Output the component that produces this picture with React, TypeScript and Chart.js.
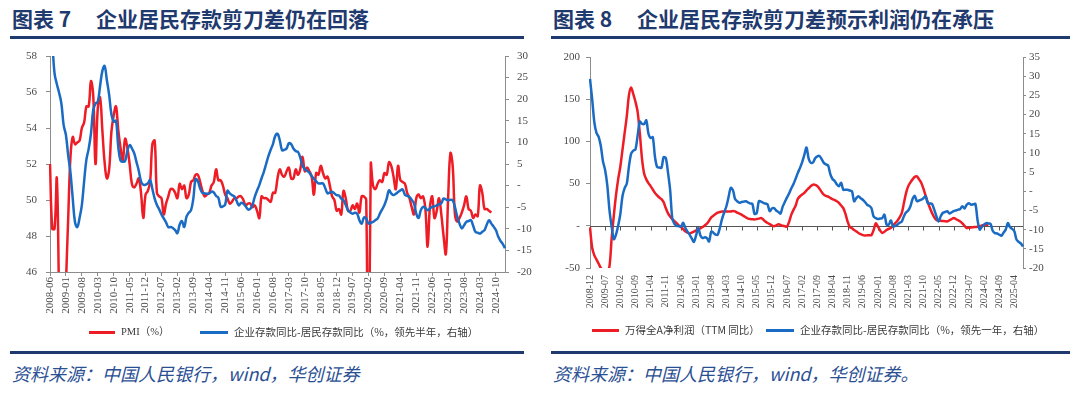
import React, { useEffect, useRef } from "react";
import { Chart, registerables } from "chart.js";

Chart.register(...registerables);

// ---------- categories ----------
function months(y0: number, m0: number, n: number): string[] {
  const out: string[] = [];
  for (let i = 0; i < n; i++) {
    const t = m0 - 1 + i;
    const y = y0 + Math.floor(t / 12);
    const m = (t % 12) + 1;
    out.push(`${y}-${m < 10 ? "0" + m : m}`);
  }
  return out;
}
const CAT1 = months(2008, 6, 201); // 2008-06 .. 2025-02
const CAT2 = months(2008, 12, 201); // 2008-12 .. 2025-08

// ---------- chart 7 series ----------
const PMI = [
  52.0, 48.4, 48.4, 51.2, 44.6, 38.8, 41.2,
  45.3, 49.0, 52.4, 53.5, 53.1, 53.2, 53.3, 54.0, 54.3, 55.2, 55.2, 56.6,
  55.8, 52.0, 55.1, 55.7, 53.9, 52.1, 51.2, 51.7, 53.8, 54.7, 55.2, 53.9,
  52.9, 52.2, 53.4, 52.9, 52.0, 50.9, 50.7, 50.9, 51.2, 50.4, 49.0, 50.3,
  50.5, 51.0, 53.1, 53.3, 50.4, 50.2, 50.1, 49.2, 49.8, 50.2, 50.6, 50.6,
  50.4, 50.1, 50.9, 50.6, 50.8, 50.1, 50.3, 51.0, 51.1, 51.4, 51.4, 51.0,
  50.5, 50.2, 50.3, 50.4, 50.8, 51.0, 51.7, 51.1, 51.1, 50.8, 50.3, 50.1,
  49.8, 49.9, 50.1, 50.1, 50.2, 50.2, 50.0, 49.7, 49.8, 49.8, 49.6, 49.7,
  49.4, 49.0, 50.2, 50.1, 50.1, 50.0, 49.9, 50.4, 50.4, 51.2, 51.7, 51.4,
  51.3, 51.6, 51.8, 51.2, 51.2, 51.7, 51.4, 51.7, 52.4, 51.6, 51.8, 51.6,
  51.3, 50.3, 51.5, 51.4, 51.9, 51.5, 51.2, 51.3, 50.8, 50.2, 50.0, 49.4,
  49.5, 49.2, 50.5, 50.1, 49.4, 49.4, 49.7, 49.5, 49.8, 49.3, 50.2, 50.2,
  50.0, 35.7, 52.0, 50.8, 50.6, 50.9, 51.1, 51.0, 51.5, 51.4, 52.1, 51.9,
  51.3, 50.6, 51.9, 51.1, 51.0, 50.9, 50.4, 50.1, 49.6, 49.2, 50.1, 50.3,
  50.1, 50.2, 49.5, 47.4, 49.6, 50.2, 49.0, 49.4, 50.1, 49.2, 48.0, 47.0,
  50.1, 52.6, 51.9, 49.2, 48.8, 49.0, 49.3, 49.7, 50.2, 49.5, 49.4, 49.0,
  49.2, 49.1, 50.8, 50.4, 49.5, 49.5, 49.4, 49.3,
];

const DEP_GAP_HALF = [
  38, 33, 26, 23.5, 21.5, 19, 14, 11.7, 7, 3,
  -3, -8.5, -9.6, -7.5, -4.5, 1, 6, 8.5, 12, 17.5,
  19, 19.4, 23, 26.5, 27.7, 24.4, 21, 16.5, 14.8, 15,
  9, 5.8, 5.5, 5.7, 8, 9.4, 8.6, 7.5, 5.5, 3.5,
  1, 0.2, 0.2, 0.5, 1.3, -0.8, -3, -4.5, -5.5, -6.7,
  -7.6, -8.5, -9.6, -9.6, -9.8, -10.3, -11, -9, -8.2, -9.6,
  -7.2, -6.3, -5.7, -3, 1.5, 1, -0.7, -1.7, -1.8, -1.9,
  -1.8, -1.4, -1.6, -2.4, -2.8, -4.9, -4.8, -4.4, -1.2, -1.8,
  -2.2, -2.5, -3.5, -4.6, -4, -4.2, -4.8, -5.5, -5.4, -4.5,
  -2.6, -1.2, 0.1, 1.7, 3.2, 5, 6.8, 8.3, 9.6, 11.5,
  12, 10.5, 8.2, 8.3, 8.6, 9.8, 9.6, 8.6, 8, 7.8,
  6.5, 4.6, 3.8, 3.4, 3, 2.2, 1.6, 1, 0.5, 0.5,
  0.5, -0.6, -1.8, -1.6, -1.4, -1.8, -2.2, -2.3, -3, -3.4,
  -4.5, -5.7, -6.2, -6.5, -6.3, -6.5, -8, -8.8, -7.4, -7.6,
  -8.8, -8.6, -8.4, -8, -7.6, -6.5, -5.5, -4.5, -3, -1.1,
  -1.8, -2.2, -1.9, -1.5, -1.1, -0.9, -2.1, -2.4, -2.6, -3.3,
  -4.1, -6.5, -7.5, -5.7, -4.9, -5.2, -5.7, -5.3, -4.9, -4.8,
  -4.6, -4.3, -4.1, -3, -3.2, -3.4, -3.3, -3.4, -5, -7.2,
  -8.8, -9.9, -9.2, -8.4, -8.2, -8, -9.3, -10.7, -10.9, -11.1,
  -10.7, -10.3, -9, -8, -8.8, -9.5, -10.3, -11.8, -12.8, -13.5,
  -14.5,
];

// ---------- chart 8 series ----------
const PROFIT_TTM = [
  -2, -26, -35, -40, -45, -50, -53, -54, -53, -48,
  -15, 12, 36, 55, 70, 90, 110, 130, 155, 164,
  156, 147, 135, 110, 80, 62, 55, 50.5, 47, 43,
  39, 36, 33.5, 31.5, 28, 21, 15, 11, 8, 5.5,
  3, 0.5, -1.5, -4, -6.5, -8, -9, -8, -7, -5.5,
  -4, -3, -1.5, 0.5, 2.5, 6, 10, 12, 14, 15.5,
  16.4, 17, 17, 17, 17, 17, 17.5, 17, 15.5, 14.5,
  13.2, 11.5, 10, 8.5, 8, 7.8, 7.6, 8, 8.5, 9.2,
  7.5, 5, 3.3, 2, 0.5, -0.5, 0.5, 1.7, 1, 0,
  -0.5, -1, 5, 13.2, 19, 24, 32, 35, 37, 39,
  42, 44.5, 47, 48.7, 48.5, 47, 44, 40, 37, 35.5,
  34.5, 33, 31.5, 30.5, 29, 27, 24, 21, 14, 5,
  -1.4, -3, -5, -6.6, -8.5, -10, -11, -11.4, -11.3, -11.2,
  -11, -5, 3, -1, -5.5, -8.5, -7, -5, -3.5, -2.6,
  0, 3.3, 6, 10, 15, 27, 39, 47, 51.4, 55,
  58, 58.5, 55, 51, 44, 36, 28, 21, 15, 10,
  7, 6.4, 6, 5.7, 5.4, 5.2, 6.5, 8, 9.2, 8,
  6.7, 5.2, 3, 0, -2.6, -2.3, -2, -1.6, -1.4, -1,
  -0.5, 0.5, 1, 1.2, 1.3,
];

const DEP_GAP_YEAR = [
  29.3, 24, 18, 15.2, 14.2, 11.8, 7.8, 5.5, 1.5, -5,
  -9.2, -12.5, -11.3, -9, -6, -1.3, 0.8, 2, 6.5, 9.8,
  10.6, 10.9, 14.5, 18.2, 17.6, 17.5, 18.5, 15, 13.9, 14.1,
  9, 6.3, 6.2, 6.1, 8.9, 8.7, 5, 0.4, -7, -8.5,
  -9, -9.1, -9.2, -8.2, -9.5, -10.5, -11.3, -12.3, -13.2, -11.5,
  -9.6, -11.5, -12.2, -12, -12.2, -13.1, -10.5, -10.8, -11.3, -11.3,
  -9.5, -7.2, -5.5, -3.9, -1.5, 0.9, 0.3, -2, -2.6, -3,
  -2.8, -2.7, -2.6, -2.9, -3.2, -3.3, -5.9, -5.7, -2.6, -2.7,
  -3, -3.2, -3.4, -5.2, -4.5, -4.4, -5, -5.4, -5.8, -4,
  -2.8, -1.6, -0.5, 0.8, 1.9, 3.3, 4.8, 6.1, 7.6, 9.5,
  11.4, 8.5, 7.4, 7.5, 8.6, 9.1, 9.2, 8.4, 7.4, 7,
  6.7, 4.5, 3.2, 2.7, 1.8, 1.3, 2.2, 0.4, 0.4, 0.4,
  0.2, 0, -2.6, -1.8, -1.3, -1.8, -2.2, -2.8, -3.5, -3.8,
  -4.4, -6.6, -7, -7.2, -7.1, -7, -6.1, -8.7, -8.7, -7.6,
  -9.2, -9, -8.7, -8.2, -7.9, -6.5, -5.5, -5, -3.9, -2,
  -1.2, -2.6, -2.4, -2.2, -1.8, -1.3, -3.1, -3.2, -3.3, -4.8,
  -6.5, -7.9, -6.5, -5.6, -5.4, -5.2, -5.8, -5.5, -5.2, -5,
  -4.8, -4.6, -3.9, -4.5, -3.5, -3.1, -3.5, -3.4, -3.3, -7.5,
  -10, -9.3, -8.7, -8.3, -8.4, -8.5, -10.3, -10.9, -11, -11.3,
  -11.6, -10.8, -10, -8.3, -9.3, -9.8, -10.4, -12.6, -13.2, -13.6,
  -14.4,
];

// ---------- texts ----------
const TITLE1_NO = "图表 7";
const TITLE1 = "企业居民存款剪刀差仍在回落";
const TITLE2_NO = "图表 8";
const TITLE2 = "企业居民存款剪刀差预示利润仍在承压";
const LEG1_RED = "PMI（%）";
const LEG1_BLUE = "企业存款同比-居民存款同比（%，领先半年，右轴）";
const LEG2_RED = "万得全A净利润（TTM 同比）";
const LEG2_BLUE = "企业存款同比-居民存款同比（%，领先一年，右轴）";
const SRC1 = "资料来源：中国人民银行，wind，华创证券";
const SRC2 = "资料来源：中国人民银行，wind，华创证券。";

// ---------- styles ----------
const RED = "#EE1C25";
const BLUE = "#1A6BC3";
const AXIS = "#8C8C8C";
const TICK = "#4A4A4A";
const NAVY = "#1F3A6E";
const SRC_BLUE = "#2B4F93";
const SERIF = '"Liberation Serif", "Times New Roman", serif';
const CJK = '"Noto Sans CJK SC", "Noto Sans", sans-serif';

const zeroFmt = (v: any) => (Number(v) === 0 ? "-" : String(v));
const everySeventh = (s: any) => {
  s.ticks = s.ticks.filter((t: any) => t.value % 7 === 0);
};

const zeroAxisPlugin = {
  id: "zeroAxis",
  beforeDatasetsDraw(chart: any) {
    const { ctx, chartArea, scales } = chart;
    const y = Math.round(scales.y.getPixelForValue(0)) + 0.5;
    ctx.save();
    ctx.strokeStyle = "#555555";
    ctx.lineWidth = 1;
    ctx.beginPath();
    ctx.moveTo(chartArea.left, y);
    ctx.lineTo(chartArea.right, y);
    scales.x.ticks.forEach((_: any, i: number) => {
      const x = Math.round(scales.x.getPixelForTick(i)) + 0.5;
      ctx.moveTo(x, y);
      ctx.lineTo(x, y + 4);
    });
    ctx.stroke();
    ctx.restore();
  },
};

function config1(): any {
  return {
    type: "line",
    data: {
      labels: CAT1,
      datasets: [
        { label: LEG1_RED, data: PMI, borderColor: RED, backgroundColor: RED, borderWidth: 2.5, pointRadius: 0, tension: 0.4, yAxisID: "y", order: 1 },
        { label: LEG1_BLUE, data: DEP_GAP_HALF, borderColor: BLUE, backgroundColor: BLUE, borderWidth: 2.5, pointRadius: 0, tension: 0.4, yAxisID: "y1", order: 0 },
      ],
    },
    options: {
      responsive: false,
      animation: false,
      devicePixelRatio: 1,
      layout: { padding: { top: 16, left: 0, right: 0, bottom: 0 } },
      plugins: { legend: { display: false }, tooltip: { enabled: false } },
      scales: {
        x: {
          type: "category",
          offset: false,
          grid: { drawOnChartArea: false, drawTicks: true, tickLength: 4, color: AXIS },
          border: { display: true, color: AXIS, width: 1 },
          ticks: { autoSkip: false, minRotation: 90, maxRotation: 90, padding: 1, color: TICK, font: { family: SERIF, size: 11 } },
          afterBuildTicks: everySeventh,
          afterFit: (s: any) => { s.height = 68; },
        },
        y: {
          position: "left",
          min: 46, max: 58,
          grid: { drawOnChartArea: false, drawTicks: true, tickLength: 4, color: AXIS },
          border: { display: true, color: AXIS, width: 1 },
          ticks: { stepSize: 2, padding: 9, color: TICK, font: { family: SERIF, size: 11 } },
          afterFit: (s: any) => { s.width = 50; },
        },
        y1: {
          position: "right",
          min: -20, max: 30,
          grid: { drawOnChartArea: false, drawTicks: true, tickLength: 4, color: AXIS },
          border: { display: true, color: AXIS, width: 1 },
          ticks: { stepSize: 5, padding: 8, color: TICK, font: { family: SERIF, size: 11 }, callback: zeroFmt },
          afterFit: (s: any) => { s.width = 35; },
        },
      },
    },
  };
}

function config2(): any {
  return {
    type: "line",
    data: {
      labels: CAT2,
      datasets: [
        { label: LEG2_RED, data: PROFIT_TTM, borderColor: RED, backgroundColor: RED, borderWidth: 2.5, pointRadius: 0, tension: 0.3, yAxisID: "y", order: 1 },
        { label: LEG2_BLUE, data: DEP_GAP_YEAR, borderColor: BLUE, backgroundColor: BLUE, borderWidth: 2.5, pointRadius: 0, tension: 0.3, yAxisID: "y1", order: 0 },
      ],
    },
    plugins: [zeroAxisPlugin],
    options: {
      responsive: false,
      animation: false,
      devicePixelRatio: 1,
      layout: { padding: { top: 17, left: 0, right: 0, bottom: 0 } },
      plugins: { legend: { display: false }, tooltip: { enabled: false } },
      scales: {
        x: {
          type: "category",
          offset: false,
          grid: { display: false, drawTicks: false },
          border: { display: false },
          ticks: { autoSkip: false, minRotation: 90, maxRotation: 90, padding: 7, color: TICK, font: { family: SERIF, size: 10 } },
          afterBuildTicks: everySeventh,
          afterFit: (s: any) => { s.height = 72; },
        },
        y: {
          position: "left",
          min: -50, max: 200,
          grid: { drawOnChartArea: false, drawTicks: true, tickLength: 4, color: AXIS },
          border: { display: true, color: AXIS, width: 1 },
          ticks: { stepSize: 50, padding: 6, color: TICK, font: { family: SERIF, size: 11 }, callback: zeroFmt },
          afterFit: (s: any) => { s.width = 50; },
        },
        y1: {
          position: "right",
          min: -20, max: 35,
          grid: { drawOnChartArea: false, drawTicks: true, tickLength: 3, color: AXIS },
          border: { display: true, color: AXIS, width: 1 },
          ticks: { stepSize: 5, padding: 3, color: TICK, font: { family: SERIF, size: 11 }, callback: zeroFmt },
          afterFit: (s: any) => { s.width = 57; },
        },
      },
    },
  };
}

function ChartCanvas(props: { make: () => any; left: number; top: number; width: number; height: number }) {
  const ref = useRef<HTMLCanvasElement>(null);
  useEffect(() => {
    const chart = new Chart(ref.current as HTMLCanvasElement, props.make());
    return () => chart.destroy();
  }, []);
  return (
    <canvas
      ref={ref}
      width={props.width}
      height={props.height}
      style={{ position: "absolute", left: props.left, top: props.top, width: props.width, height: props.height }}
    />
  );
}

const abs = (o: any) => ({ position: "absolute" as const, whiteSpace: "nowrap" as const, ...o });

function Title(props: { x0: number; no: string; text: string }) {
  const base = { fontFamily: CJK, fontWeight: 700, fontSize: 21, lineHeight: "21px", color: NAVY, top: 8 };
  return (
    <>
      <div style={abs({ ...base, left: props.x0 })}>{props.no}</div>
      <div style={abs({ ...base, left: props.x0 + 84 })}>{props.text}</div>
    </>
  );
}

function LegendItem(props: { x: number; y: number; color: string; text: string; font: string; lineW: number }) {
  return (
    <>
      <div style={abs({ left: props.x, top: props.y - 1.5, width: props.lineW, height: 3, background: props.color })} />
      <div style={abs({ left: props.x + props.lineW + 6, top: props.y - 6, fontFamily: props.font, fontSize: 10.5, lineHeight: "12px", color: "#3A3A3A" })}>{props.text}</div>
    </>
  );
}

export default function App() {
  const srcStyle = { top: 364, fontFamily: CJK, fontStyle: "italic", fontSize: 18, lineHeight: "18px", color: SRC_BLUE };
  return (
    <div style={{ position: "absolute", left: 0, top: 0, width: 1080, height: 394, background: "#ffffff", overflow: "hidden" }}>
      <Title x0={12} no={TITLE1_NO} text={TITLE1} />
      <Title x0={553} no={TITLE2_NO} text={TITLE2} />
      <div style={abs({ left: 10, top: 36, width: 514, height: 3, background: NAVY })} />
      <div style={abs({ left: 551, top: 36, width: 519, height: 3, background: NAVY })} />

      <ChartCanvas make={config1} left={0} top={40} width={540} height={300} />
      <ChartCanvas make={config2} left={540} top={40} width={540} height={300} />

      <LegendItem x={89} y={332} color={RED} text={LEG1_RED} font={`${SERIF}, ${CJK}`} lineW={26} />
      <LegendItem x={200} y={332} color={BLUE} text={LEG1_BLUE} font={CJK} lineW={28} />
      <LegendItem x={592} y={330} color={RED} text={LEG2_RED} font={CJK} lineW={27} />
      <LegendItem x={766} y={330} color={BLUE} text={LEG2_BLUE} font={CJK} lineW={28} />

      <div style={abs({ left: 10, top: 351, width: 514, height: 3, background: NAVY })} />
      <div style={abs({ left: 551, top: 351, width: 519, height: 3, background: NAVY })} />

      <div style={abs({ ...srcStyle, left: 12 })}>{SRC1}</div>
      <div style={abs({ ...srcStyle, left: 553 })}>{SRC2}</div>
    </div>
  );
}
